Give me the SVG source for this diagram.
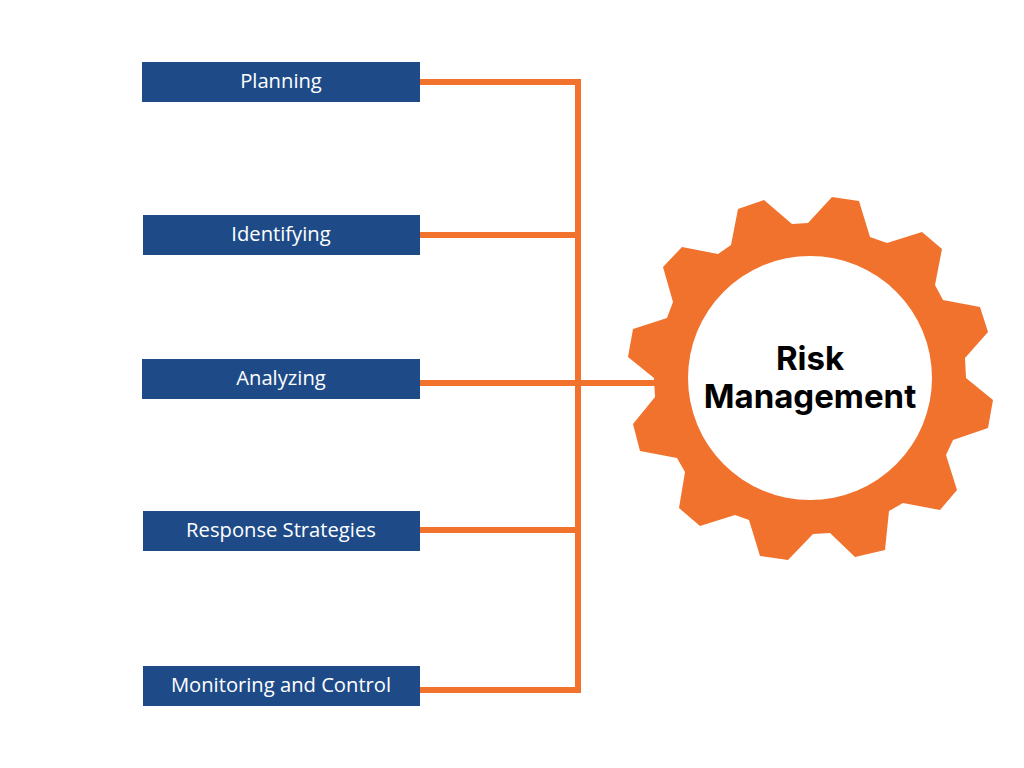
<svg xmlns="http://www.w3.org/2000/svg" width="1024" height="768" viewBox="0 0 1024 768">
<style>
.box{fill:#1e4b88}
.lbl{font-family:"Open Sans","Liberation Sans",sans-serif;font-size:20.2px;fill:#fff;text-anchor:middle}
.ln{stroke:#f0722d;stroke-width:6;fill:none}
.hub{font-family:"Inter","Liberation Sans",sans-serif;font-weight:bold;font-size:33px;fill:#000;text-anchor:middle}
</style>
<rect width="1024" height="768" fill="#fff"/>
<g id="connectors">
<path class="ln" d="M420 82H578V690H420M420 235H578M420 383H660M420 530H578"/>
</g>
<g id="planning"><rect class="box" x="142" y="62" width="278" height="40"/><text class="lbl" x="281" y="88">Planning</text></g>
<g id="identifying"><rect class="box" x="143" y="215" width="277" height="40"/><text class="lbl" x="281" y="241">Identifying</text></g>
<g id="analyzing"><rect class="box" x="142" y="359" width="278" height="40"/><text class="lbl" x="281" y="385">Analyzing</text></g>
<g id="response"><rect class="box" x="143" y="511" width="277" height="40"/><text class="lbl" x="281" y="537">Response Strategies</text></g>
<g id="monitoring"><rect class="box" x="143" y="666" width="277" height="40"/><text class="lbl" x="281" y="692">Monitoring and Control</text></g>
<g id="risk-management">
<polygon fill="#f0722d" points="832,197 859,201 870,237 887,243 922,232 942,249 935,285 943,300 980,307 988,332 965,358 966,378 993,400 988,428 953,440 946,455 957,490 940,510 903,503 889,511 885,550 855,557 830,533 813,534 788,560 760,556 749,520 735,515 700,526 679,508 685,472 677,458 640,451 633,424 655,397 654,378 628,357 633,329 667,318 673,302 663,267 682,247 718,254 731,245 738,209 764,200 792,224 808,223"/>
<circle cx="810" cy="378" r="122" fill="#fff"/>
<text class="hub" x="810" y="370">Risk</text>
<text class="hub" x="810" y="408">Management</text>
</g>
</svg>
